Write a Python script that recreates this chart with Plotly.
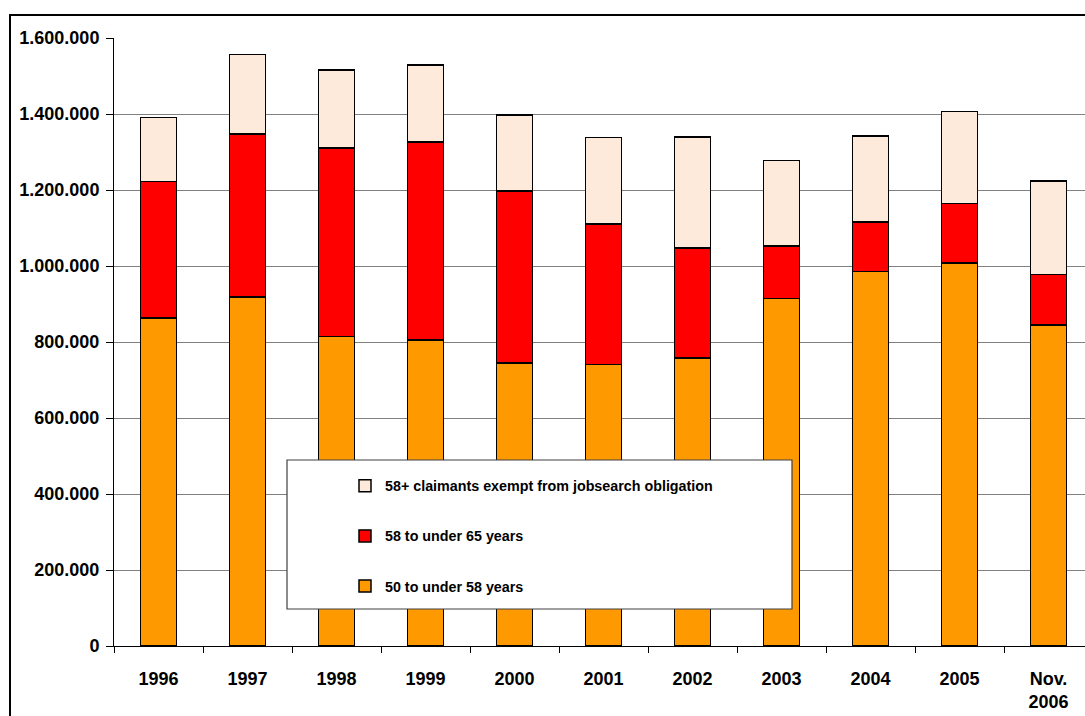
import plotly.graph_objects as go

# Unemployed persons aged 50+ by age group, annual figures
categories = ["1996", "1997", "1998", "1999", "2000", "2001", "2002",
              "2003", "2004", "2005", "Nov.<br>2006"]
age_50_to_58 = [863000, 919000, 814000, 805000, 745000, 741000, 758000,
                914000, 986000, 1008000, 845000]
age_58_to_65 = [359000, 428000, 497000, 521000, 452000, 370000, 290000,
                139000, 130000, 157000, 132000]
exempt_58_plus = [169000, 209000, 205000, 203000, 200000, 227000, 292000,
                  225000, 226000, 241000, 247000]

series = [
    ("50 to under 58 years", age_50_to_58, "#FF9900"),
    ("58 to under 65 years", age_58_to_65, "#FF0000"),
    ("58+ claimants exempt from jobsearch obligation", exempt_58_plus, "#FDEADA"),
]

W, H = 1085, 716
L, R, T, B = 114, 0, 38, 70
pw, ph = W - L - R, H - T - B


def px(x):
    return (x - L) / pw


def py(y):
    return (H - B - y) / ph


fig = go.Figure()
for i, (name, vals, color) in enumerate(series):
    fig.add_trace(go.Bar(
        x=categories, y=vals, name=name, width=0.4,
        marker=dict(color=color, line=dict(color="#000000", width=1.5)),
        legendgroup=f"g{i}",
        legendrank=len(series) - i,
    ))

base_font = dict(family="Liberation Sans, Arial, sans-serif", size=18,
                 color="#000000", weight="bold")

fig.update_layout(
    width=W, height=H,
    margin=dict(l=L, r=R, t=T, b=B),
    barmode="stack",
    bargap=0.6,
    plot_bgcolor="#FFFFFF",
    paper_bgcolor="#FFFFFF",
    separators=",.",
    font=base_font,
    showlegend=True,
    legend=dict(
        x=px(345), y=py(470), xanchor="left", yanchor="top",
        traceorder="grouped", tracegroupgap=28.5,
        bgcolor="rgba(0,0,0,0)", borderwidth=0,
        font=dict(family="Liberation Sans, Arial, sans-serif",
                  size=14.3, color="#000000", weight="bold"),
    ),
    xaxis=dict(
        type="category",
        range=[-0.5, -0.5 + pw / 89.0],
        showline=True, linecolor="#000000", linewidth=1,
        ticks="outside", ticklen=6, tickcolor="#000000", tickwidth=1,
        tickson="boundaries",
        showgrid=False,
        ticklabelstandoff=16,
        tickfont=base_font,
    ),
    yaxis=dict(
        range=[0, 1600000], dtick=200000, tickformat=",d",
        showline=True, linecolor="#000000", linewidth=1,
        ticks="outside", ticklen=7, tickcolor="#000000", tickwidth=1,
        showgrid=True, gridcolor="#808080", gridwidth=1,
        zeroline=False,
        ticklabelstandoff=3,
        tickfont=base_font,
    ),
    shapes=[
        # legend panel
        dict(type="rect", xref="paper", yref="paper",
             x0=px(287), x1=px(792), y0=py(609), y1=py(460),
             fillcolor="#FFFFFF", line=dict(color="#404040", width=1.2),
             layer="above"),
        # outer chart frame
        dict(type="rect", xref="paper", yref="paper",
             x0=px(10), x1=px(1100), y0=py(730), y1=py(15),
             fillcolor="rgba(0,0,0,0)", line=dict(color="#000000", width=2),
             layer="above"),
    ],
)

fig.write_html("out.html")
